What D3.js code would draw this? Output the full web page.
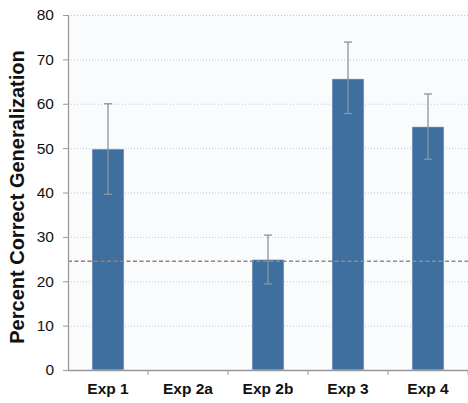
<!DOCTYPE html>
<html>
<head>
<meta charset="utf-8">
<script src="https://cdn.jsdelivr.net/npm/d3@7"></script>
<style>
  body { margin: 0; background: #fff; }
  text { font-family: "Liberation Sans", Arial, Helvetica, sans-serif; }
</style>
</head>
<body>
<svg id="chart" width="468" height="403"></svg>
<script>
// data
var experiments = ["Exp 1", "Exp 2a", "Exp 2b", "Exp 3", "Exp 4"];
var percentCorrect = [49.8, null, 24.9, 65.6, 54.8];
var errLow = [39.6, null, 19.4, 57.8, 47.5];
var errHigh = [60.0, null, 30.4, 73.9, 62.2];
var yTicks = [0, 10, 20, 30, 40, 50, 60, 70, 80];
var chanceLevel = 24.5;

var svg = d3.select("#chart");
// plot box (note: "top" is reserved on window, so prefix these)
var plotL = 68, plotR = 468, plotT = 15, plotB = 370;

var x = d3.scaleBand().domain(experiments).range([plotL, plotR]);
var y = d3.scaleLinear().domain([0, 80]).range([plotB, plotT]);

// plot background
svg.append("rect")
  .attr("x", plotL).attr("y", plotT - 5)
  .attr("width", plotR - plotL).attr("height", plotB - plotT + 5)
  .attr("fill", "#fafbfd");

// gridlines, dotted
svg.append("g").selectAll("line")
  .data(yTicks.filter(function(d){ return d > 0; }))
  .enter().append("line")
    .attr("x1", plotL).attr("x2", plotR)
    .attr("y1", function(d){ return y(d) + 0.5; })
    .attr("y2", function(d){ return y(d) + 0.5; })
    .attr("stroke", "#b3cbe0")
    .attr("stroke-width", 1)
    .attr("stroke-dasharray", "1,2");

var rows = experiments.map(function(e, i){
  return {name: e, v: percentCorrect[i], lo: errLow[i], hi: errHigh[i]};
}).filter(function(d){ return d.v != null; });

var barW = x.bandwidth() * 0.4;

svg.append("g").selectAll("rect")
  .data(rows)
  .enter().append("rect")
    .attr("x", function(d){ return x(d.name) + (x.bandwidth() - barW) / 2; })
    .attr("y", function(d){ return y(d.v); })
    .attr("width", barW)
    .attr("height", function(d){ return y(0) - y(d.v); })
    .attr("fill", "#3e6f9f")
    .attr("stroke", "#e6eef6")
    .attr("stroke-width", 0.6);

// chance line, reddish at left going grey
var grad = svg.append("defs").append("linearGradient")
  .attr("id", "chanceGrad").attr("gradientUnits", "userSpaceOnUse")
  .attr("x1", plotL).attr("x2", plotR).attr("y1", 0).attr("y2", 0);
grad.append("stop").attr("offset", "0%").attr("stop-color", "#b0735e");
grad.append("stop").attr("offset", "45%").attr("stop-color", "#8f8a88");
grad.append("stop").attr("offset", "100%").attr("stop-color", "#8c9096");

svg.append("line")
  .attr("x1", plotL).attr("x2", plotR)
  .attr("y1", y(chanceLevel)).attr("y2", y(chanceLevel))
  .attr("stroke", "url(#chanceGrad)")
  .attr("stroke-width", 1.4)
  .attr("stroke-dasharray", "4,2.5");

// error bars
var eb = svg.append("g").attr("stroke", "#8d9499").attr("stroke-width", 1.3);
rows.forEach(function(d){
  var cx = x(d.name) + x.bandwidth() / 2;
  eb.append("line").attr("x1", cx).attr("x2", cx).attr("y1", y(d.hi)).attr("y2", y(d.lo));
  eb.append("line").attr("x1", cx - 4).attr("x2", cx + 4).attr("y1", y(d.hi)).attr("y2", y(d.hi));
  eb.append("line").attr("x1", cx - 4).attr("x2", cx + 4).attr("y1", y(d.lo)).attr("y2", y(d.lo));
});

// y axis
var yAxis = svg.append("g")
  .attr("transform", "translate(" + plotL + ",0)")
  .call(d3.axisLeft(y).tickValues(yTicks).tickSize(5).tickPadding(9));
yAxis.select(".domain").attr("stroke", "#9a9a9a").attr("stroke-width", 1.3)
  .attr("d", "M0.5," + y(80) + "V" + y(0));
yAxis.selectAll(".tick line").attr("stroke", "#9a9a9a");
yAxis.selectAll(".tick text")
  .attr("font-size", 15.5).attr("fill", "#111")
  .attr("font-family", "'Liberation Sans', Arial, sans-serif");

// x axis, ticks at category boundaries
var xAxisG = svg.append("g").attr("transform", "translate(0," + plotB + ")");
xAxisG.append("line").attr("x1", plotL).attr("x2", plotR)
  .attr("y1", 0.5).attr("y2", 0.5)
  .attr("stroke", "#9a9a9a").attr("stroke-width", 1.3);
xAxisG.selectAll("line.sep")
  .data(experiments)
  .enter().append("line")
    .attr("class", "sep")
    .attr("x1", function(d){ return x(d) + x.bandwidth(); })
    .attr("x2", function(d){ return x(d) + x.bandwidth(); })
    .attr("y1", 0).attr("y2", 5)
    .attr("stroke", "#9a9a9a");
xAxisG.selectAll("text")
  .data(experiments)
  .enter().append("text")
    .attr("x", function(d){ return x(d) + x.bandwidth() / 2; })
    .attr("y", 24)
    .attr("text-anchor", "middle")
    .attr("font-size", 15.5).attr("font-weight", "bold").attr("fill", "#111")
    .text(function(d){ return d; });

// y axis title
svg.append("text")
  .attr("transform", "translate(24,197) rotate(-90)")
  .attr("text-anchor", "middle")
  .attr("font-size", 20).attr("font-weight", "bold").attr("fill", "#111")
  .text("Percent Correct Generalization");
</script>
</body>
</html>
